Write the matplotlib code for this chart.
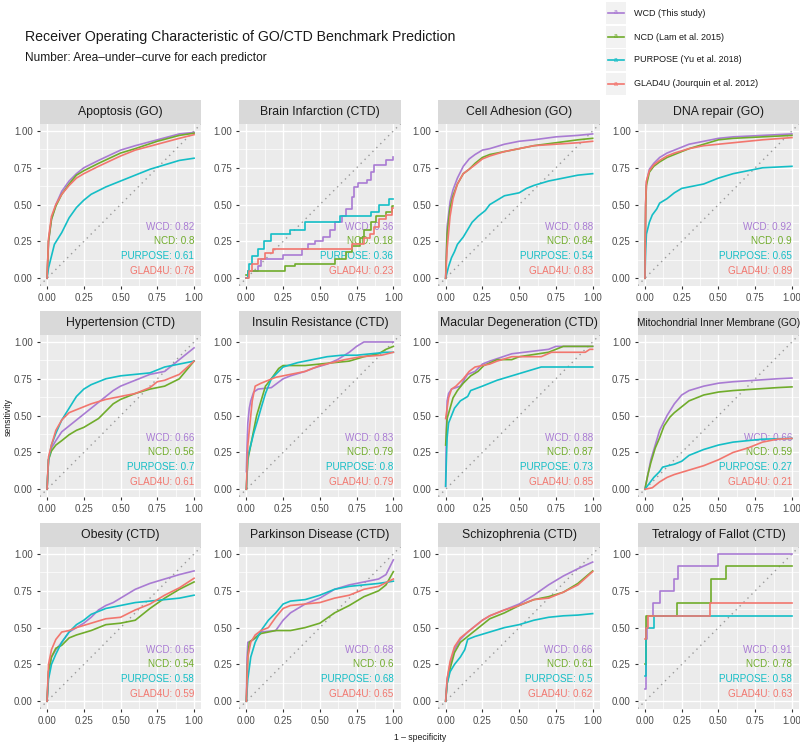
import numpy as np
import matplotlib
matplotlib.use("Agg")
import matplotlib.pyplot as plt

# panel titles and AUC values (order: WCD, NCD, PURPOSE, GLAD4U)
panels = ["Apoptosis (GO)", "Brain Infarction (CTD)", "Cell Adhesion (GO)", "DNA repair (GO)",
          "Hypertension (CTD)", "Insulin Resistance (CTD)", "Macular Degeneration (CTD)",
          "Mitochondrial Inner Membrane (GO)", "Obesity (CTD)", "Parkinson Disease (CTD)",
          "Schizophrenia (CTD)", "Tetralogy of Fallot (CTD)"]
auc_wcd = [0.82, 0.36, 0.88, 0.92, 0.66, 0.83, 0.88, 0.66, 0.65, 0.68, 0.66, 0.91]
auc_ncd = [0.8, 0.18, 0.84, 0.9, 0.56, 0.79, 0.87, 0.59, 0.54, 0.6, 0.61, 0.78]
auc_purpose = [0.61, 0.36, 0.54, 0.65, 0.7, 0.8, 0.73, 0.27, 0.58, 0.68, 0.5, 0.58]
auc_glad4u = [0.78, 0.23, 0.83, 0.89, 0.61, 0.79, 0.85, 0.21, 0.59, 0.65, 0.62, 0.63]

methods = ["WCD", "NCD", "PURPOSE", "GLAD4U"]
legend_labels = ["WCD (This study)", "NCD (Lam et al. 2015)", "PURPOSE (Yu et al. 2018)",
                 "GLAD4U (Jourquin et al. 2012)"]
colors = ["#A97BD3", "#70AC2B", "#14BEC6", "#F2766E"]

# ROC points (1 - specificity, sensitivity)
apop_wcd = [(0,0),(0.01,0.25),(0.03,0.4),(0.06,0.5),(0.1,0.59),(0.15,0.66),(0.2,0.71),(0.25,0.75),(0.35,0.8),(0.5,0.87),(0.6,0.9),(0.75,0.94),(0.9,0.98),(1,0.99)]
apop_ncd = [(0,0),(0.01,0.25),(0.03,0.4),(0.06,0.49),(0.1,0.57),(0.15,0.64),(0.2,0.7),(0.25,0.73),(0.35,0.78),(0.5,0.85),(0.6,0.88),(0.75,0.93),(0.9,0.97),(1,0.985)]
apop_pur = [(0,0),(0.01,0.07),(0.03,0.15),(0.05,0.23),(0.1,0.31),(0.15,0.41),(0.2,0.48),(0.25,0.53),(0.3,0.57),(0.4,0.62),(0.5,0.66),(0.6,0.7),(0.7,0.74),(0.8,0.77),(0.9,0.8),(1,0.815)]
apop_gla = [(0,0),(0.01,0.27),(0.03,0.42),(0.06,0.5),(0.1,0.57),(0.15,0.63),(0.2,0.68),(0.25,0.71),(0.35,0.76),(0.5,0.83),(0.6,0.87),(0.75,0.91),(0.9,0.95),(1,0.975)]

brain_wcd = [(0,0),(0.01,0.05),(0.08,0.08),(0.1,0.13),(0.25,0.16),(0.38,0.2),(0.42,0.23),(0.47,0.25),(0.52,0.28),(0.57,0.33),(0.6,0.38),(0.65,0.42),(0.68,0.47),(0.72,0.55),(0.73,0.62),(0.76,0.65),(0.82,0.67),(0.85,0.72),(0.87,0.77),(0.95,0.8),(1,0.82)]
brain_ncd = [(0,0.02),(0.01,0.05),(0.26,0.08),(0.33,0.1),(0.6,0.13),(0.68,0.18),(0.72,0.22),(0.77,0.27),(0.8,0.33),(0.85,0.38),(0.88,0.42),(0.95,0.45),(0.99,0.49),(1,0.49)]
brain_pur = [(0,0),(0.01,0.05),(0.02,0.1),(0.04,0.15),(0.08,0.2),(0.12,0.25),(0.17,0.3),(0.3,0.33),(0.4,0.38),(0.64,0.42),(0.85,0.45),(0.9,0.5),(0.97,0.54),(1,0.54)]
brain_gla = [(0,0),(0.02,0.05),(0.04,0.1),(0.08,0.13),(0.13,0.17),(0.18,0.2),(0.72,0.23),(0.8,0.27),(0.84,0.3),(0.87,0.35),(0.9,0.4),(0.95,0.43),(0.99,0.48),(1,0.48)]

cell_wcd = [(0,0),(0.01,0.35),(0.03,0.52),(0.05,0.6),(0.08,0.68),(0.12,0.76),(0.16,0.81),(0.2,0.84),(0.25,0.87),(0.3,0.88),(0.4,0.91),(0.5,0.93),(0.6,0.94),(0.75,0.96),(0.9,0.97),(1,0.98)]
cell_ncd = [(0,0),(0.01,0.3),(0.03,0.48),(0.05,0.56),(0.08,0.64),(0.12,0.71),(0.16,0.74),(0.2,0.78),(0.25,0.82),(0.3,0.84),(0.4,0.86),(0.5,0.88),(0.6,0.9),(0.75,0.92),(0.9,0.94),(1,0.95)]
cell_pur = [(0,0),(0.02,0.08),(0.04,0.14),(0.06,0.18),(0.08,0.23),(0.12,0.28),(0.15,0.33),(0.18,0.38),(0.22,0.42),(0.27,0.46),(0.3,0.5),(0.35,0.53),(0.4,0.56),(0.5,0.58),(0.55,0.61),(0.6,0.63),(0.7,0.66),(0.8,0.68),(0.9,0.7),(1,0.71)]
cell_gla = [(0,0),(0.01,0.2),(0.03,0.42),(0.05,0.54),(0.08,0.64),(0.12,0.71),(0.16,0.74),(0.2,0.77),(0.25,0.81),(0.3,0.83),(0.4,0.86),(0.5,0.88),(0.6,0.9),(0.75,0.91),(0.9,0.92),(1,0.93)]

dna_wcd = [(0,0),(0.005,0.5),(0.01,0.65),(0.03,0.74),(0.06,0.78),(0.1,0.82),(0.15,0.85),(0.2,0.87),(0.3,0.91),(0.4,0.93),(0.5,0.95),(0.6,0.96),(0.8,0.97),(1,0.98)]
dna_ncd = [(0,0),(0.005,0.5),(0.01,0.63),(0.03,0.72),(0.06,0.76),(0.1,0.79),(0.15,0.82),(0.2,0.84),(0.3,0.88),(0.4,0.91),(0.5,0.94),(0.6,0.95),(0.8,0.96),(1,0.97)]
dna_pur = [(0,0),(0.005,0.2),(0.01,0.3),(0.03,0.38),(0.05,0.43),(0.08,0.47),(0.1,0.51),(0.15,0.54),(0.2,0.58),(0.25,0.61),(0.3,0.62),(0.4,0.64),(0.45,0.66),(0.5,0.68),(0.6,0.71),(0.7,0.73),(0.8,0.75),(0.9,0.755),(1,0.76)]
dna_gla = [(0,0),(0.005,0.52),(0.01,0.66),(0.03,0.73),(0.06,0.77),(0.1,0.8),(0.15,0.83),(0.2,0.85),(0.3,0.88),(0.4,0.9),(0.5,0.91),(0.6,0.92),(0.8,0.94),(1,0.955)]

hyp_wcd = [(0,0),(0.01,0.2),(0.03,0.28),(0.06,0.33),(0.1,0.39),(0.15,0.43),(0.2,0.47),(0.25,0.51),(0.3,0.55),(0.35,0.59),(0.4,0.63),(0.45,0.67),(0.5,0.7),(0.55,0.72),(0.6,0.74),(0.7,0.78),(0.8,0.8),(0.9,0.88),(1,0.96)]
hyp_ncd = [(0,0),(0.01,0.2),(0.03,0.26),(0.06,0.3),(0.1,0.33),(0.15,0.37),(0.2,0.4),(0.25,0.42),(0.3,0.45),(0.35,0.48),(0.4,0.53),(0.45,0.58),(0.5,0.61),(0.6,0.65),(0.7,0.68),(0.8,0.7),(0.9,0.75),(1,0.87)]
hyp_pur = [(0,0),(0.01,0.2),(0.03,0.3),(0.06,0.38),(0.1,0.47),(0.15,0.55),(0.2,0.63),(0.25,0.68),(0.3,0.71),(0.4,0.75),(0.5,0.77),(0.6,0.78),(0.7,0.79),(0.8,0.83),(0.9,0.85),(1,0.87)]
hyp_gla = [(0,0),(0.01,0.22),(0.03,0.3),(0.06,0.4),(0.1,0.47),(0.15,0.52),(0.2,0.54),(0.3,0.58),(0.4,0.61),(0.5,0.63),(0.6,0.65),(0.7,0.69),(0.75,0.73),(0.8,0.74),(0.9,0.78),(1,0.87)]

ins_wcd = [(0,0.12),(0.005,0.3),(0.01,0.45),(0.02,0.55),(0.03,0.6),(0.05,0.66),(0.08,0.68),(0.17,0.69),(0.25,0.75),(0.3,0.77),(0.4,0.8),(0.45,0.82),(0.55,0.85),(0.62,0.88),(0.7,0.93),(0.75,0.97),(0.8,1.0),(1,1.0)]
ins_ncd = [(0,0),(0.01,0.2),(0.03,0.3),(0.05,0.4),(0.07,0.5),(0.1,0.6),(0.13,0.7),(0.17,0.75),(0.22,0.82),(0.25,0.84),(0.4,0.84),(0.5,0.85),(0.6,0.86),(0.7,0.87),(0.8,0.9),(0.9,0.92),(0.95,0.95),(1,0.97)]
ins_pur = [(0,0),(0.01,0.22),(0.03,0.3),(0.05,0.38),(0.08,0.48),(0.1,0.55),(0.13,0.65),(0.17,0.75),(0.22,0.8),(0.25,0.83),(0.35,0.86),(0.45,0.88),(0.55,0.9),(0.65,0.91),(0.75,0.91),(0.85,0.92),(0.95,0.93),(1,0.93)]
ins_gla = [(0,0),(0.01,0.3),(0.02,0.4),(0.03,0.5),(0.04,0.6),(0.06,0.7),(0.1,0.72),(0.15,0.74),(0.2,0.76),(0.3,0.78),(0.4,0.8),(0.5,0.84),(0.67,0.88),(0.78,0.9),(0.92,0.91),(1,0.93)]

mac_wcd = [(0,0.02),(0.005,0.4),(0.01,0.6),(0.02,0.65),(0.04,0.68),(0.1,0.7),(0.13,0.75),(0.15,0.78),(0.2,0.8),(0.25,0.85),(0.3,0.87),(0.45,0.92),(0.7,0.95),(0.75,0.97),(1,0.97)]
mac_ncd = [(0,0.3),(0.01,0.48),(0.03,0.55),(0.05,0.62),(0.08,0.67),(0.12,0.72),(0.17,0.77),(0.22,0.8),(0.26,0.84),(0.35,0.88),(0.45,0.88),(0.5,0.9),(0.7,0.93),(0.8,0.97),(1,0.97)]
mac_pur = [(0,0.02),(0.005,0.2),(0.01,0.35),(0.02,0.45),(0.04,0.5),(0.06,0.55),(0.1,0.6),(0.15,0.63),(0.17,0.67),(0.25,0.7),(0.3,0.72),(0.35,0.74),(0.45,0.77),(0.55,0.8),(0.65,0.83),(1,0.83)]
mac_gla = [(0,0.48),(0.01,0.55),(0.02,0.62),(0.04,0.68),(0.07,0.7),(0.12,0.75),(0.16,0.8),(0.2,0.83),(0.3,0.85),(0.35,0.87),(0.45,0.9),(0.65,0.9),(0.72,0.93),(0.95,0.93),(0.98,0.95),(1,0.95)]

mito_wcd = [(0,0),(0.02,0.1),(0.04,0.2),(0.07,0.3),(0.1,0.4),(0.15,0.5),(0.2,0.58),(0.25,0.64),(0.3,0.67),(0.4,0.7),(0.5,0.72),(0.6,0.73),(0.75,0.74),(0.9,0.75),(1,0.755)]
mito_ncd = [(0,0),(0.02,0.1),(0.04,0.18),(0.07,0.28),(0.1,0.35),(0.13,0.43),(0.17,0.49),(0.2,0.52),(0.25,0.56),(0.3,0.6),(0.4,0.64),(0.5,0.66),(0.6,0.67),(0.75,0.68),(0.9,0.69),(1,0.695)]
mito_pur = [(0,0),(0.03,0.04),(0.06,0.08),(0.1,0.12),(0.12,0.15),(0.2,0.17),(0.25,0.19),(0.3,0.23),(0.4,0.27),(0.5,0.3),(0.6,0.32),(0.7,0.33),(0.8,0.34),(1,0.345)]
mito_gla = [(0,0),(0.05,0.01),(0.1,0.05),(0.15,0.08),(0.2,0.1),(0.3,0.13),(0.4,0.16),(0.5,0.2),(0.6,0.25),(0.7,0.28),(0.8,0.32),(0.9,0.34),(1,0.345)]

obe_wcd = [(0,0),(0.01,0.2),(0.03,0.3),(0.06,0.35),(0.1,0.4),(0.15,0.47),(0.2,0.5),(0.25,0.53),(0.3,0.57),(0.35,0.62),(0.4,0.65),(0.45,0.67),(0.5,0.7),(0.6,0.76),(0.7,0.8),(0.8,0.83),(0.9,0.86),(1,0.885)]
obe_ncd = [(0,0),(0.01,0.2),(0.03,0.3),(0.06,0.36),(0.1,0.38),(0.15,0.43),(0.2,0.45),(0.3,0.48),(0.4,0.52),(0.5,0.53),(0.6,0.55),(0.7,0.63),(0.8,0.7),(0.9,0.76),(1,0.81)]
obe_pur = [(0,0),(0.01,0.15),(0.03,0.25),(0.06,0.32),(0.1,0.4),(0.15,0.47),(0.2,0.52),(0.25,0.55),(0.3,0.59),(0.4,0.63),(0.5,0.65),(0.6,0.67),(0.7,0.68),(0.8,0.69),(0.9,0.7),(1,0.72)]
obe_gla = [(0,0),(0.01,0.25),(0.03,0.35),(0.06,0.42),(0.1,0.47),(0.15,0.48),(0.2,0.5),(0.3,0.53),(0.4,0.56),(0.5,0.57),(0.6,0.62),(0.7,0.66),(0.8,0.72),(0.9,0.77),(1,0.835)]

park_wcd = [(0,0),(0.005,0.3),(0.01,0.4),(0.05,0.42),(0.1,0.47),(0.2,0.48),(0.25,0.55),(0.3,0.6),(0.35,0.63),(0.4,0.66),(0.5,0.7),(0.55,0.73),(0.6,0.76),(0.7,0.79),(0.8,0.81),(0.9,0.83),(0.95,0.86),(1,0.96)]
park_ncd = [(0,0),(0.01,0.3),(0.02,0.4),(0.1,0.46),(0.2,0.48),(0.3,0.48),(0.4,0.5),(0.5,0.53),(0.6,0.6),(0.7,0.65),(0.8,0.71),(0.9,0.75),(0.95,0.79),(1,0.88)]
park_pur = [(0,0),(0.01,0.15),(0.03,0.3),(0.06,0.4),(0.1,0.48),(0.15,0.55),(0.2,0.6),(0.25,0.66),(0.3,0.68),(0.4,0.69),(0.5,0.72),(0.6,0.76),(0.7,0.78),(0.8,0.79),(0.9,0.8),(1,0.815)]
park_gla = [(0,0),(0.01,0.3),(0.03,0.4),(0.06,0.45),(0.1,0.48),(0.15,0.5),(0.2,0.57),(0.25,0.63),(0.3,0.65),(0.4,0.66),(0.5,0.67),(0.6,0.7),(0.7,0.72),(0.8,0.76),(0.9,0.78),(1,0.83)]

schi_wcd = [(0,0),(0.01,0.15),(0.03,0.25),(0.06,0.35),(0.1,0.42),(0.15,0.47),(0.2,0.51),(0.25,0.55),(0.3,0.58),(0.4,0.62),(0.5,0.66),(0.6,0.72),(0.7,0.79),(0.8,0.85),(0.9,0.9),(1,0.945)]
schi_ncd = [(0,0),(0.01,0.12),(0.03,0.22),(0.06,0.33),(0.1,0.4),(0.15,0.44),(0.2,0.48),(0.25,0.52),(0.3,0.56),(0.4,0.6),(0.5,0.65),(0.6,0.69),(0.7,0.71),(0.8,0.74),(0.9,0.8),(1,0.885)]
schi_pur = [(0,0),(0.01,0.12),(0.03,0.2),(0.06,0.25),(0.1,0.3),(0.13,0.35),(0.15,0.42),(0.2,0.44),(0.3,0.47),(0.4,0.5),(0.5,0.52),(0.6,0.55),(0.7,0.57),(0.8,0.58),(0.9,0.585),(1,0.595)]
schi_gla = [(0,0),(0.01,0.15),(0.03,0.27),(0.06,0.37),(0.1,0.43),(0.15,0.47),(0.2,0.51),(0.25,0.55),(0.3,0.58),(0.4,0.62),(0.5,0.65),(0.6,0.69),(0.7,0.7),(0.8,0.74),(0.9,0.79),(1,0.88)]

tet_wcd = [(0,0.08),(0.005,0.25),(0.01,0.42),(0.015,0.58),(0.057,0.67),(0.1,0.75),(0.2,0.83),(0.227,0.92),(0.495,1.0),(1,1.0)]
tet_ncd = [(0,0.25),(0.005,0.42),(0.01,0.58),(0.22,0.67),(0.45,0.83),(0.55,0.92),(1,0.92)]
tet_pur = [(0,0.17),(0.005,0.42),(0.01,0.5),(0.06,0.58),(1,0.58)]
tet_gla = [(0,0.42),(0.01,0.5),(0.02,0.58),(0.443,0.67),(1,0.67)]

curves = [
    [apop_wcd, apop_ncd, apop_pur, apop_gla],
    [brain_wcd, brain_ncd, brain_pur, brain_gla],
    [cell_wcd, cell_ncd, cell_pur, cell_gla],
    [dna_wcd, dna_ncd, dna_pur, dna_gla],
    [hyp_wcd, hyp_ncd, hyp_pur, hyp_gla],
    [ins_wcd, ins_ncd, ins_pur, ins_gla],
    [mac_wcd, mac_ncd, mac_pur, mac_gla],
    [mito_wcd, mito_ncd, mito_pur, mito_gla],
    [obe_wcd, obe_ncd, obe_pur, obe_gla],
    [park_wcd, park_ncd, park_pur, park_gla],
    [schi_wcd, schi_ncd, schi_pur, schi_gla],
    [tet_wcd, tet_ncd, tet_pur, tet_gla],
]
step_panels = ["Brain Infarction (CTD)", "Tetralogy of Fallot (CTD)"]

W, H = 800, 744
fig = plt.figure(figsize=(W / 100, H / 100), dpi=100)
fig.patch.set_facecolor("white")

sans = ["Liberation Sans", "DejaVu Sans"]

col_left = [39.7, 239.0, 438.3, 637.6]
row_top = [123.6, 334.6, 546.6]
pw, ph = 161.7, 162.0
strip_h = 23.5
ticks = [0, 0.25, 0.5, 0.75, 1.0]
tick_lab = ["0.00", "0.25", "0.50", "0.75", "1.00"]

for i, name in enumerate(panels):
    r, c = divmod(i, 4)
    left = col_left[c]
    top = row_top[r]
    ax = fig.add_axes([left / W, 1 - (top + ph) / H, pw / W, ph / H])
    ax.set_facecolor("#EBEBEB")
    for s in ax.spines.values():
        s.set_visible(False)
    ax.set_xlim(-0.05, 1.05)
    ax.set_ylim(-0.05, 1.05)
    ax.set_xticks(ticks)
    ax.set_yticks(ticks)
    ax.set_xticks([0.125, 0.375, 0.625, 0.875], minor=True)
    ax.set_yticks([0.125, 0.375, 0.625, 0.875], minor=True)
    ax.set_xticklabels(tick_lab, family=sans, fontsize=7, color="#4D4D4D")
    ax.set_yticklabels(tick_lab, family=sans, fontsize=7, color="#4D4D4D")
    ax.tick_params(which="major", length=2.5, width=0.8, color="#333333", pad=2.5)
    ax.tick_params(which="minor", length=0)
    ax.grid(which="major", color="white", linewidth=1.0)
    ax.grid(which="minor", color="white", linewidth=0.5)
    ax.set_axisbelow(True)

    # diagonal reference
    ax.plot([-0.05, 1.05], [-0.05, 1.05], linestyle=(0, (1, 3)), color="#9A9A9A",
            linewidth=1.0, zorder=2)

    # AUC labels
    aucs = [auc_wcd[i], auc_ncd[i], auc_purpose[i], auc_glad4u[i]]
    for k in range(4):
        ax.text(1.0, 0.35 - 0.1 * k, f"{methods[k]}: {aucs[k]:g}", ha="right", va="center",
                fontsize=7.1, color=colors[k], family=sans, zorder=3)

    # ROC curves
    for k in range(4):
        xs = [p[0] for p in curves[i][k]]
        ys = [p[1] for p in curves[i][k]]
        if name in step_panels:
            ax.plot(xs, ys, drawstyle="steps-post", color=colors[k], linewidth=1.2, zorder=4)
        else:
            ax.plot(xs, ys, color=colors[k], linewidth=1.2, zorder=4)

    # facet strip
    sax = fig.add_axes([left / W, 1 - top / H, pw / W, strip_h / H])
    sax.set_facecolor("#D9D9D9")
    sax.set_xticks([])
    sax.set_yticks([])
    for s in sax.spines.values():
        s.set_visible(False)
    fs = 7.3 if len(name) > 30 else 8.8
    sax.text(0.5, 0.5, name, ha="center", va="center", fontsize=fs, color="#1A1A1A",
             family=sans, transform=sax.transAxes)

# titles
fig.text(25 / W, 1 - 37 / H, "Receiver Operating Characteristic of GO/CTD Benchmark Prediction",
         fontsize=10.2, family=sans, color="#1A1A1A", va="center")
fig.text(25 / W, 1 - 58 / H, "Number: Area\u2013under\u2013curve for each predictor",
         fontsize=8.6, family=sans, color="#1A1A1A", va="center")

# axis labels
fig.text(8 / W, 1 - 417 / H, "sensitivity", rotation=90, fontsize=6.2, family=sans,
         color="#1A1A1A", ha="center", va="center")
fig.text(420 / W, 1 - 737 / H, "1 \u2013 specificity", fontsize=6.2, family=sans,
         color="#1A1A1A", ha="center", va="center")

# legend
key_y = [13, 37, 60, 84]
for k in range(4):
    kax = fig.add_axes([606 / W, 1 - (key_y[k] + 11) / H, 20 / W, 22 / H])
    kax.set_facecolor("#F2F2F2")
    kax.set_xlim(0, 1)
    kax.set_ylim(0, 1)
    kax.set_xticks([])
    kax.set_yticks([])
    for s in kax.spines.values():
        s.set_visible(False)
    kax.plot([0.1, 0.9], [0.5, 0.5], color=colors[k], linewidth=1.2)
    kax.text(0.5, 0.5, "a", color=colors[k], fontsize=5, ha="center", va="center",
             family=sans)
    fig.text(634 / W, 1 - key_y[k] / H, legend_labels[k], fontsize=6.5, family=sans,
             color="#1A1A1A", va="center")

fig.savefig("out.png", dpi=100)
